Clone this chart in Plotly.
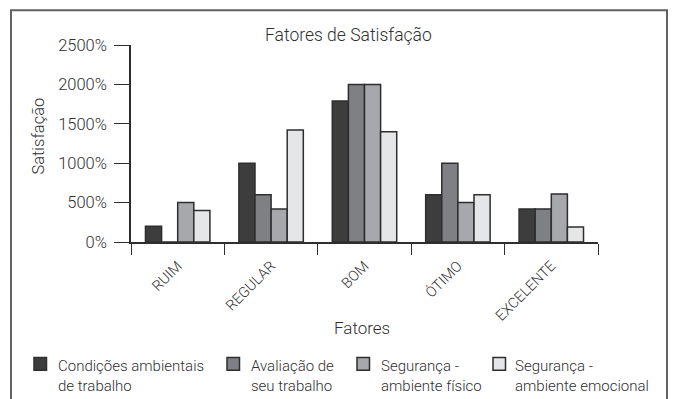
import plotly.graph_objects as go

categorias = ["RUIM", "REGULAR", "BOM", "ÓTIMO", "EXCELENTE"]

series_nomes = [
    "Condições ambientais<br>de trabalho",
    "Avaliação de<br>seu trabalho",
    "Segurança -<br>ambiente físico",
    "Segurança -<br>ambiente emocional",
]

condicoes_ambientais = [200, 1000, 1790, 600, 420]
avaliacao_trabalho = [0, 600, 2000, 1000, 420]
seguranca_fisico = [500, 420, 2000, 500, 610]
seguranca_emocional = [400, 1420, 1400, 600, 190]

cores = ["#3d3d3d", "#7f8083", "#a7a8ab", "#e5e6e7"]
y_ticks = [0, 500, 1000, 1500, 2000, 2500]

FONT = "Roboto"
TXT = "#303030"
LINE = "#2e2e2e"

# plot area in pixels
W, H = 676, 399
L, R, T, B = 131, 598, 45.3, 242.5
pw, ph = R - L, B - T


def px(x):
    return (x - L) / pw


def py(y):
    return (B - y) / ph


def fnt(size, color=TXT):
    return dict(family=FONT, size=size, color=color, weight=300)


fig = go.Figure()
for nome, valores, cor in zip(
    series_nomes,
    [condicoes_ambientais, avaliacao_trabalho, seguranca_fisico, seguranca_emocional],
    cores,
):
    fig.add_trace(
        go.Bar(
            x=categorias,
            y=valores,
            name=nome,
            showlegend=False,
            marker=dict(color=cor, line=dict(color=LINE, width=1.5)),
        )
    )

# legend: swatch + two-line label per series
leg_square_x = [34, 227, 357, 493]
leg_text_x = [56, 249, 379, 513]
shapes = [
    dict(
        type="rect",
        xref="paper", yref="paper",
        x0=px(11), x1=px(667), y0=py(430), y1=py(10.5),
        line=dict(color="#626262", width=2),
        fillcolor="rgba(0,0,0,0)",
        layer="below",
    )
]
annotations = [
    dict(
        text="Fatores de Satisfação",
        xref="paper", yref="paper",
        x=px(348), y=py(35),
        xanchor="center", yanchor="middle",
        showarrow=False,
        font=fnt(17.5),
    ),
    dict(
        text="Satisfação",
        xref="paper", yref="paper",
        x=px(39), y=py(137),
        xanchor="center", yanchor="middle",
        textangle=-90,
        showarrow=False,
        font=fnt(16.5),
    ),
    dict(
        text="Fatores",
        xref="paper", yref="paper",
        x=px(362), y=py(329),
        xanchor="center", yanchor="middle",
        showarrow=False,
        font=fnt(17),
    ),
]
for nome, cor, sx, tx in zip(series_nomes, cores, leg_square_x, leg_text_x):
    shapes.append(
        dict(
            type="rect",
            xref="paper", yref="paper",
            x0=px(sx), x1=px(sx + 12.5), y0=py(371), y1=py(358),
            line=dict(color=LINE, width=1.5),
            fillcolor=cor,
        )
    )
    annotations.append(
        dict(
            text=nome,
            xref="paper", yref="paper",
            x=px(tx), y=py(355.5),
            xanchor="left", yanchor="top",
            align="left",
            showarrow=False,
            font=fnt(15),
        )
    )

fig.update_layout(
    width=W,
    height=H,
    margin=dict(l=L, r=W - R, t=T, b=H - B, autoexpand=False),
    paper_bgcolor="white",
    plot_bgcolor="white",
    barmode="group",
    bargap=0.31,
    bargroupgap=0,
    font=fnt(15),
    showlegend=False,
    xaxis=dict(
        type="category",
        tickson="boundaries",
        ticks="outside",
        ticklen=11,
        tickcolor=LINE,
        tickwidth=1.3,
        tickangle=-45,
        ticklabelstandoff=8,
        showline=True,
        linecolor=LINE,
        linewidth=1.5,
        showgrid=False,
        zeroline=False,
        automargin=False,
        tickfont=fnt(14.5),
        range=[-0.5, 4.5],
    ),
    yaxis=dict(
        range=[0, 2500],
        tickmode="array",
        tickvals=y_ticks,
        ticktext=[f"{v}%" for v in y_ticks],
        ticks="outside",
        ticklen=15,
        tickcolor=LINE,
        tickwidth=1.3,
        ticklabelstandoff=4,
        showline=True,
        linecolor=LINE,
        linewidth=1.5,
        showgrid=False,
        zeroline=False,
        automargin=False,
        tickfont=fnt(16.5),
    ),
    annotations=annotations,
    shapes=shapes,
)

fig.write_html("out.html")
